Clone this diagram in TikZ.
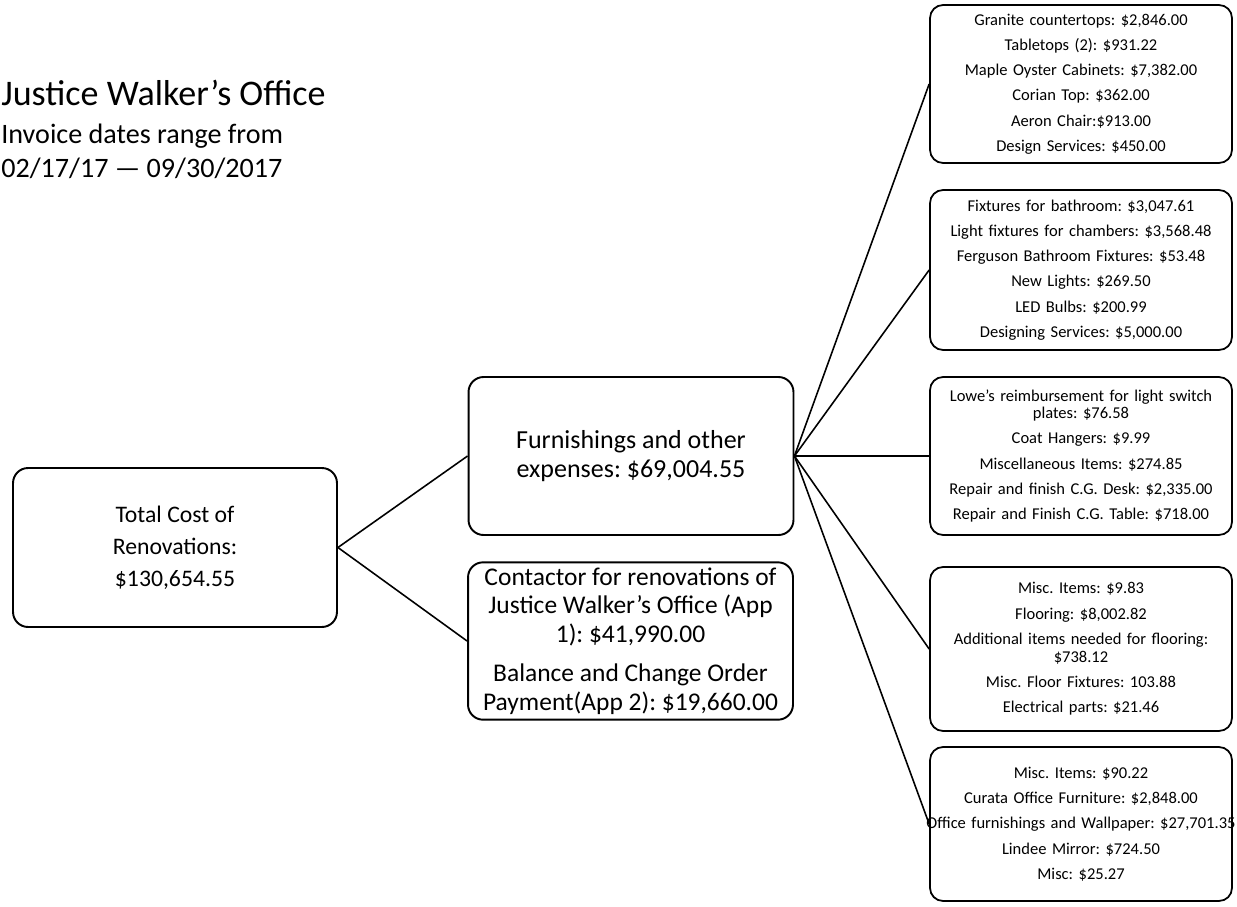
\documentclass[tikz,border=0pt]{standalone}
\usepackage{fontspec}
\setmainfont{Carlito}
\frenchspacing
\begin{document}
\begin{tikzpicture}[x=0.02cm, y=-0.02cm,
  mainbox/.style={draw, line width=1.1pt, rounded corners=0.3cm, align=center, inner sep=3pt},
  itembox/.style={draw, line width=1pt, rounded corners=0.26cm, align=center, text width=5.84cm, inner sep=0.1cm, font=\fontsize{9.4}{10}\selectfont},
  branch/.style={line width=0.9pt}]
\useasboundingbox (0,0) rectangle (1237,906);
\clip (0,0) rectangle (1237,906);
% heading, top left
\node[anchor=base west, inner sep=0, font=\fontsize{20.5}{24}\selectfont] (title) at (1,105) {Justice Walker’s Office};
\node[anchor=base west, inner sep=0, font=\fontsize{16}{19}\selectfont] (range) at (1,143) {Invoice dates range from};
\node[anchor=base west, inner sep=0, font=\fontsize{16}{19}\selectfont] (dates) at (1,177) {02/17/17 — 09/30/2017};
% first two levels
\node[mainbox, minimum width=6.48cm, minimum height=3.18cm, font=\fontsize{13.5}{18.2}\selectfont] (total) at (175,547.5) {Total Cost of\\Renovations:\\\$130,654.55};
\node[mainbox, minimum width=6.5cm, minimum height=3.16cm, font=\fontsize{14.8}{17}\selectfont] (furnish) at (631,456) {Furnishings and other\\expenses: \$69,004.55};
\node[mainbox, minimum width=6.5cm, minimum height=3.12cm, font=\fontsize{14.5}{16.3}\selectfont] (contract) at (630.5,641) {Contactor for renovations of\\Justice Walker’s Office (App\\1): \$41,990.00\\[6pt]Balance and Change Order\\Payment(App 2): \$19,660.00};
% item lists
\node[itembox, minimum height=3.16cm] (cabinets) at (1081,84) {Granite countertops: \$2,846.00\\[4.4pt]Tabletops (2): \$931.22\\[4.4pt]Maple Oyster Cabinets: \$7,382.00\\[4.4pt]Corian Top: \$362.00\\[4.4pt]Aeron Chair:\$913.00\\[4.4pt]Design Services: \$450.00};
\node[itembox, minimum height=3.2cm] (lighting) at (1081,270) {Fixtures for bathroom: \$3,047.61\\[4.4pt]Light fixtures for chambers: \$3,568.48\\[4.4pt]Ferguson Bathroom Fixtures: \$53.48\\[4.4pt]New Lights: \$269.50\\[4.4pt]LED Bulbs: \$200.99\\[4.4pt]Designing Services: \$5,000.00};
\node[itembox, minimum height=3.16cm] (repairs) at (1081,456) {Lowe’s reimbursement for light switch\\plates: \$76.58\\[4.4pt]Coat Hangers: \$9.99\\[4.4pt]Miscellaneous Items: \$274.85\\[4.4pt]Repair and finish C.G. Desk: \$2,335.00\\[4.4pt]Repair and Finish C.G. Table: \$718.00};
\node[itembox, minimum height=3.28cm] (flooring) at (1081,649) {Misc. Items: \$9.83\\[4.4pt]Flooring: \$8,002.82\\[4.4pt]Additional items needed for flooring:\\\$738.12\\[4.4pt]Misc. Floor Fixtures: 103.88\\[4.4pt]Electrical parts: \$21.46};
\node[itembox, minimum height=3.08cm] (furniture) at (1081,824) {Misc. Items: \$90.22\\[4.4pt]Curata Office Furniture: \$2,848.00\\[4.4pt]\makebox[\linewidth]{Office furnishings and Wallpaper: \$27,701.35}\\[4.4pt]Lindee Mirror: \$724.50\\[4.4pt]Misc: \$25.27};
% connectors
\draw[branch] (total.east) -- (furnish.west);
\draw[branch] (total.east) -- (contract.west);
\foreach \n in {cabinets,lighting,repairs,flooring,furniture}
  \draw[branch] (furnish.east) -- (\n.west);
\end{tikzpicture}
\end{document}
